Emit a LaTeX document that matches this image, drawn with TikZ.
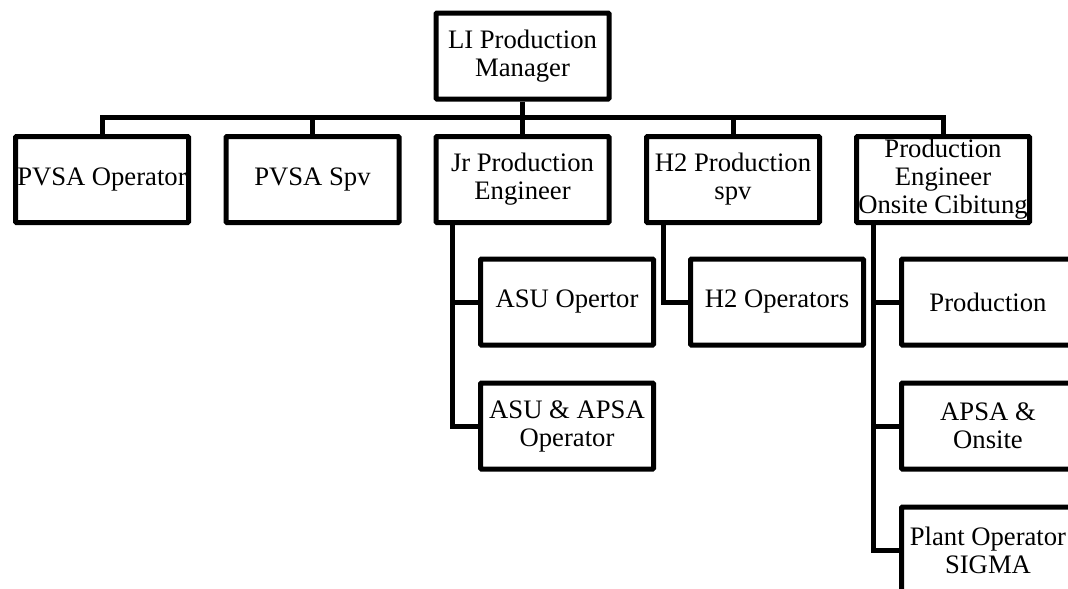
\documentclass[tikz,border=0pt]{standalone}
\usepackage{fontspec}
\setmainfont{Liberation Serif}
\usetikzlibrary{calc}
\hfuzz=20pt
\begin{document}
\begin{tikzpicture}[x=0.75pt,y=-0.75pt,
  orgbox/.style={draw=black, line width=3.75pt, rounded corners=0.75pt,
    minimum width=129.75pt, minimum height=64.5pt, text width=127pt,
    align=flush center, inner sep=0pt, font=\fontsize{20}{21}\selectfont},
  link/.style={line width=3.75pt, line join=miter}]
\useasboundingbox (0,0) rectangle (1068,589);
\clip (0,0) rectangle (1068,589);

% top level
\node[orgbox] (mgr) at (522.5,56) {LI Production\\Manager};

% second level
\node[orgbox] (pvsaop)  at (102,179.5)   {PVSA~Operator};
\node[orgbox] (pvsaspv) at (312.5,179.5) {PVSA Spv};
\node[orgbox] (jr)      at (522.5,179.5) {Jr Production\\Engineer};
\node[orgbox] (h2)      at (733,179.5)   {H2 Production\\spv};
\node[orgbox] (pe)      at (943,179.5)   {Production\\Engineer\\Onsite~Cibitung};

% third level
\node[orgbox] (asu)     at (567,302) {ASU Opertor};
\node[orgbox] (asuapsa) at (567,426) {ASU~\&~APSA\\Operator};
\node[orgbox] (h2op)    at (777,302) {H2 Operators};
\node[orgbox] (prod)    at (988,302) {Production};
\node[orgbox] (apsa)    at (988,426) {APSA \&\\Onsite};
\node[orgbox] (plant)   at (988,550) {Plant~Operator\\SIGMA};

% bus under the manager
\coordinate (bus) at (522.5,117);
\draw[link] (mgr.south) -- (bus);
\foreach \n in {pvsaop,pvsaspv,jr,h2,pe}
  \draw[link] (\n.north) |- (bus);

% side branches
\draw[link] ($(jr.south)+(-70.5,0)$) |- (asu.west);
\draw[link] ($(jr.south)+(-70.5,0)$) |- (asuapsa.west);
\draw[link] ($(h2.south)+(-70,0)$) |- (h2op.west);
\draw[link] ($(pe.south)+(-70,0)$) |- (prod.west);
\draw[link] ($(pe.south)+(-70,0)$) |- (apsa.west);
\draw[link] ($(pe.south)+(-70,0)$) |- (plant.west);
\end{tikzpicture}
\end{document}
